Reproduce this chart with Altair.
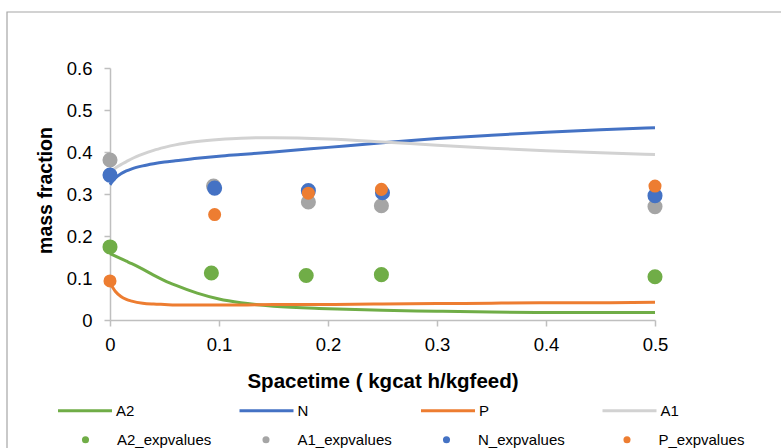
import altair as alt
import pandas as pd

# Model curves (mass fraction vs spacetime)
tau = [0, 0.005, 0.01, 0.015, 0.02, 0.03, 0.04, 0.05, 0.06, 0.08, 0.1, 0.12,
       0.15, 0.2, 0.25, 0.3, 0.35, 0.4, 0.45, 0.5]
a2_model = [0.158, 0.152, 0.146, 0.14, 0.134, 0.121, 0.107, 0.094, 0.083, 0.064,
            0.05, 0.041, 0.033, 0.027, 0.023, 0.021, 0.019, 0.018, 0.018, 0.018]
n_model = [0.322, 0.338, 0.348, 0.355, 0.36, 0.367, 0.372, 0.376, 0.379, 0.385,
           0.39, 0.394, 0.4, 0.411, 0.422, 0.432, 0.44, 0.447, 0.453, 0.458]
p_model = [0.088, 0.068, 0.056, 0.049, 0.045, 0.04, 0.038, 0.037, 0.036, 0.036,
           0.036, 0.036, 0.037, 0.037, 0.038, 0.039, 0.04, 0.041, 0.041, 0.042]
a1_model = [0.352, 0.362, 0.37, 0.377, 0.384, 0.395, 0.404, 0.411, 0.417, 0.425,
            0.43, 0.433, 0.434, 0.431, 0.424, 0.416, 0.409, 0.403, 0.398, 0.394]

# Experimental points
a2_x = [0, 0.093, 0.18, 0.249, 0.5]
a2_y = [0.174, 0.112, 0.106, 0.108, 0.103]
a1_x = [0, 0.095, 0.182, 0.249, 0.5]
a1_y = [0.381, 0.319, 0.281, 0.272, 0.270]
n_x = [0, 0.096, 0.182, 0.25, 0.5]
n_y = [0.345, 0.314, 0.308, 0.303, 0.296]
p_x = [0, 0.096, 0.182, 0.249, 0.5]
p_y = [0.093, 0.251, 0.302, 0.311, 0.319]

line_names = ["A2", "N", "P", "A1"]
line_colors = ["#70ad47", "#4472c4", "#ed7d31", "#d2d2d2"]
point_names = ["A2_expvalues", "A1_expvalues", "N_expvalues", "P_expvalues"]
point_colors = ["#70ad47", "#a5a5a5", "#4472c4", "#ed7d31"]

lines = pd.DataFrame({
    "tau": tau * 4,
    "frac": a2_model + n_model + p_model + a1_model,
    "series": sum([[s] * len(tau) for s in line_names], []),
    "order": sum([[i] * len(tau) for i in range(4)], []),
})

pts = pd.DataFrame({
    "tau": a2_x + a1_x + n_x + p_x,
    "frac": a2_y + a1_y + n_y + p_y,
    "series": sum([[s] * 5 for s in point_names], []),
})

FONT = "Liberation Sans"

x_enc = alt.X("tau:Q", scale=alt.Scale(domain=[0, 0.5], nice=False),
              axis=alt.Axis(title="Spacetime ( kgcat h/kgfeed)",
                            values=[0, 0.1, 0.2, 0.3, 0.4, 0.5],
                            format="~g", labelFontSize=18.5, labelPadding=9,
                            labelFlush=False,
                            titleFontSize=20.5, titleFontWeight="bold",
                            titleBaseline="alphabetic", titleY=67))
y_enc = alt.Y("frac:Q", scale=alt.Scale(domain=[0, 0.6], nice=False),
              axis=alt.Axis(title="mass fraction",
                            values=[0, 0.1, 0.2, 0.3, 0.4, 0.5, 0.6],
                            format="~g", labelFontSize=18.5, labelPadding=12,
                            labelFlush=False,
                            titleFontSize=19.5, titleFontWeight="bold",
                            titleBaseline="alphabetic", titleX=-59, titleY=122,
                            titleAngle=-90))

frame = alt.Chart(pd.DataFrame({"k": [0]})).mark_rect(
    fill=None, stroke="#a6a6a6", strokeWidth=1.2
).encode(x=alt.value(-103), x2=alt.value(800), y=alt.value(-56), y2=alt.value(500))

line_layer = alt.Chart(lines).mark_line(strokeWidth=3, interpolate="monotone").encode(
    x=x_enc, y=y_enc,
    stroke=alt.Stroke("series:N", sort=line_names,
                      scale=alt.Scale(domain=line_names, range=line_colors),
                      legend=alt.Legend(title=None, orient="none", direction="horizontal",
                                        columns=4, gridAlign="all",
                                        legendX=-53.5, legendY=314,
                                        symbolType="stroke", symbolSize=2916,
                                        symbolStrokeWidth=3, labelOffset=2.5,
                                        columnPadding=98.5, labelFontSize=15,
                                        padding=0)),
    detail="series:N",
    order="order:Q",
)

point_layer = alt.Chart(pts).mark_circle(opacity=1, clip=False).encode(
    x="tau:Q", y="frac:Q",
    fill=alt.Fill("series:N", sort=point_names,
                  scale=alt.Scale(domain=point_names, range=point_colors),
                  legend=alt.Legend(title=None, orient="none", direction="horizontal",
                                    columns=4, gridAlign="all",
                                    legendX=-32, legendY=364,
                                    symbolType="circle", symbolSize=50,
                                    symbolStrokeWidth=0, labelOffset=24,
                                    columnPadding=46.5, labelFontSize=15,
                                    padding=0)),
    size=alt.condition(alt.datum.series == "P_expvalues", alt.value(170), alt.value(227)),
)

chart = alt.layer(frame, line_layer, point_layer).resolve_legend(
    stroke="independent", fill="independent"
).properties(
    width=545, height=252,
    autosize=alt.AutoSizeParams(type="none"),
    padding={"left": 110, "top": 68, "right": 126, "bottom": 128},
).configure(font=FONT).configure_view(stroke=None).configure_axis(
    grid=False, domainColor="#bfbfbf", domainWidth=1.5, tickColor="#bfbfbf",
    tickWidth=1.5, tickSize=6, labelColor="#000000", titleColor="#000000",
    labelFont=FONT, titleFont=FONT,
).configure_legend(labelColor="#000000", labelFont=FONT)

chart.save("out.html", embed_options={"renderer": "svg", "actions": False})
